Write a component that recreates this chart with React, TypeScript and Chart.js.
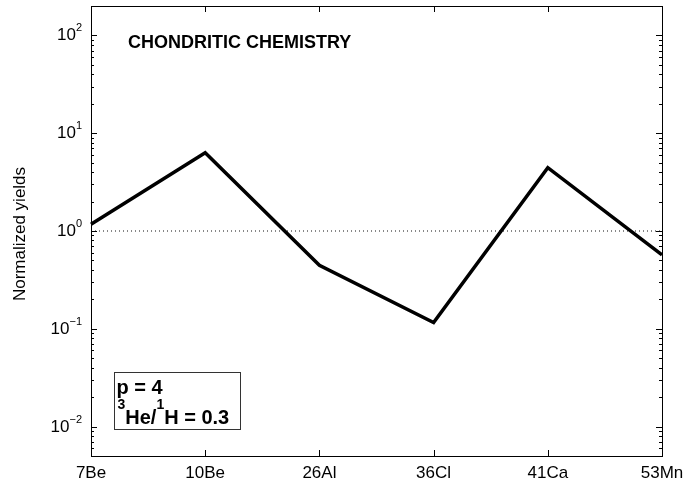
import React, { useEffect, useRef } from "react";
import { Chart, registerables } from "chart.js";

Chart.register(...registerables);

const categories = ["7Be", "10Be", "26Al", "36Cl", "41Ca", "53Mn"];
const yields = [1.17, 6.3, 0.447, 0.116, 4.45, 0.57];
const referenceLevel = [1, 1, 1, 1, 1, 1];
const yMin = 0.005;
const yMax = 200;
const majorExponents = [-2, -1, 0, 1, 2];
const minorMultipliers = [2, 3, 4, 5, 6, 7, 8, 9];
const minorExponents = [-3, -2, -1, 0, 1, 2];
const titleText = "CHONDRITIC CHEMISTRY";
const yAxisTitle = "Normalized yields";
const boxLine1 = "p = 4";
const boxLine2 = [
  { t: "3", sup: true },
  { t: "He/", sup: false },
  { t: "1", sup: true },
  { t: "H = 0.3", sup: false },
];

const FONT = '"Liberation Sans", Arial, Helvetica, sans-serif';

const framePlugin = {
  id: "matlabFrame",
  afterDraw(chart: any) {
    const ctx = chart.ctx as CanvasRenderingContext2D;
    const { left, right, top, bottom } = chart.chartArea;
    const x = chart.scales.x;
    const y = chart.scales.y;
    ctx.save();
    ctx.strokeStyle = "#000";
    ctx.fillStyle = "#000";
    ctx.lineWidth = 1;

    // frame
    ctx.strokeRect(Math.round(left) + 0.5, Math.round(top) + 0.5, Math.round(right - left), Math.round(bottom - top));

    // x ticks (top & bottom, inward)
    const majLen = 6;
    const minLen = 3;
    categories.forEach((_, i) => {
      const px = Math.round(x.getPixelForValue(i)) + 0.5;
      ctx.beginPath();
      ctx.moveTo(px, bottom);
      ctx.lineTo(px, bottom - majLen);
      ctx.moveTo(px, top);
      ctx.lineTo(px, top + majLen);
      ctx.stroke();
    });

    // y ticks
    const drawYTick = (v: number, len: number) => {
      if (v < yMin || v > yMax) return;
      const py = Math.round(y.getPixelForValue(v)) + 0.5;
      ctx.beginPath();
      ctx.moveTo(left, py);
      ctx.lineTo(left + len, py);
      ctx.moveTo(right, py);
      ctx.lineTo(right - len, py);
      ctx.stroke();
    };
    majorExponents.forEach((e) => drawYTick(Math.pow(10, e), majLen));
    minorExponents.forEach((e) =>
      minorMultipliers.forEach((m) => drawYTick(m * Math.pow(10, e), minLen))
    );

    // y tick labels 10^k
    const baseFont = `17px ${FONT}`;
    const expFont = `11px ${FONT}`;
    majorExponents.forEach((e) => {
      const py = y.getPixelForValue(Math.pow(10, e));
      const expStr = e < 0 ? "\u2212" + Math.abs(e) : String(e);
      ctx.font = expFont;
      const ew = ctx.measureText(expStr).width;
      ctx.font = baseFont;
      const bw = ctx.measureText("10").width;
      const rightEdge = left - 9;
      ctx.textAlign = "left";
      ctx.textBaseline = "alphabetic";
      ctx.fillText("10", rightEdge - ew - bw, py + 5);
      ctx.font = expFont;
      ctx.fillText(expStr, rightEdge - ew, py - 4);
    });

    // x tick labels
    ctx.font = `17px ${FONT}`;
    ctx.textAlign = "center";
    ctx.textBaseline = "alphabetic";
    categories.forEach((c, i) => {
      ctx.fillText(c, x.getPixelForValue(i), bottom + 22);
    });

    // y axis title
    ctx.save();
    ctx.translate(20, (top + bottom) / 2 + 3);
    ctx.rotate(-Math.PI / 2);
    ctx.font = `17px ${FONT}`;
    ctx.textAlign = "center";
    ctx.textBaseline = "middle";
    ctx.fillText(yAxisTitle, 0, 0);
    ctx.restore();

    // inner title
    ctx.font = `bold 18px ${FONT}`;
    ctx.textAlign = "left";
    ctx.textBaseline = "alphabetic";
    ctx.fillText(titleText, left + 37, top + 42);

    // parameter box
    const bx = Math.round(left + 23) + 0.5;
    const by = Math.round(bottom - 84) + 0.5;
    ctx.strokeStyle = "#333";
    ctx.strokeRect(bx, by, 126, 57);
    ctx.fillStyle = "#000";
    ctx.font = `bold 20px ${FONT}`;
    ctx.fillText(boxLine1, bx + 2, by + 21);
    let cx = bx + 3;
    boxLine2.forEach((p) => {
      ctx.font = p.sup ? `bold 14px ${FONT}` : `bold 20px ${FONT}`;
      ctx.fillText(p.t, cx, p.sup ? by + 36 : by + 51);
      cx += ctx.measureText(p.t).width;
    });

    ctx.restore();
  },
};

export default function App() {
  const ref = useRef<HTMLCanvasElement | null>(null);
  useEffect(() => {
    if (!ref.current) return;
    const chart = new Chart(ref.current, {
      type: "line",
      data: {
        labels: categories,
        datasets: [
          {
            data: yields,
            borderColor: "#000",
            borderWidth: 3.5,
            pointRadius: 0,
            borderJoinStyle: "miter",
            tension: 0,
            order: 0,
          },
          {
            data: referenceLevel,
            borderColor: "#111",
            borderWidth: 1,
            borderDash: [1, 3],
            pointRadius: 0,
            tension: 0,
            order: 1,
          },
        ],
      },
      options: {
        animation: false,
        responsive: false,
        maintainAspectRatio: false,
        events: [],
        layout: { padding: { left: 91, right: 36, top: 6, bottom: 27 } },
        plugins: {
          legend: { display: false },
          tooltip: { enabled: false },
          title: { display: false },
        },
        scales: {
          x: {
            type: "category",
            display: false,
            offset: false,
          },
          y: {
            type: "logarithmic",
            display: false,
            min: yMin,
            max: yMax,
          },
        },
      },
      plugins: [framePlugin],
    });
    return () => chart.destroy();
  }, []);
  return (
    <div style={{ position: "absolute", left: 0, top: 0, width: 698, height: 483, background: "#fff" }}>
      <canvas ref={ref} width={698} height={483} style={{ width: 698, height: 483, display: "block" }} />
    </div>
  );
}
